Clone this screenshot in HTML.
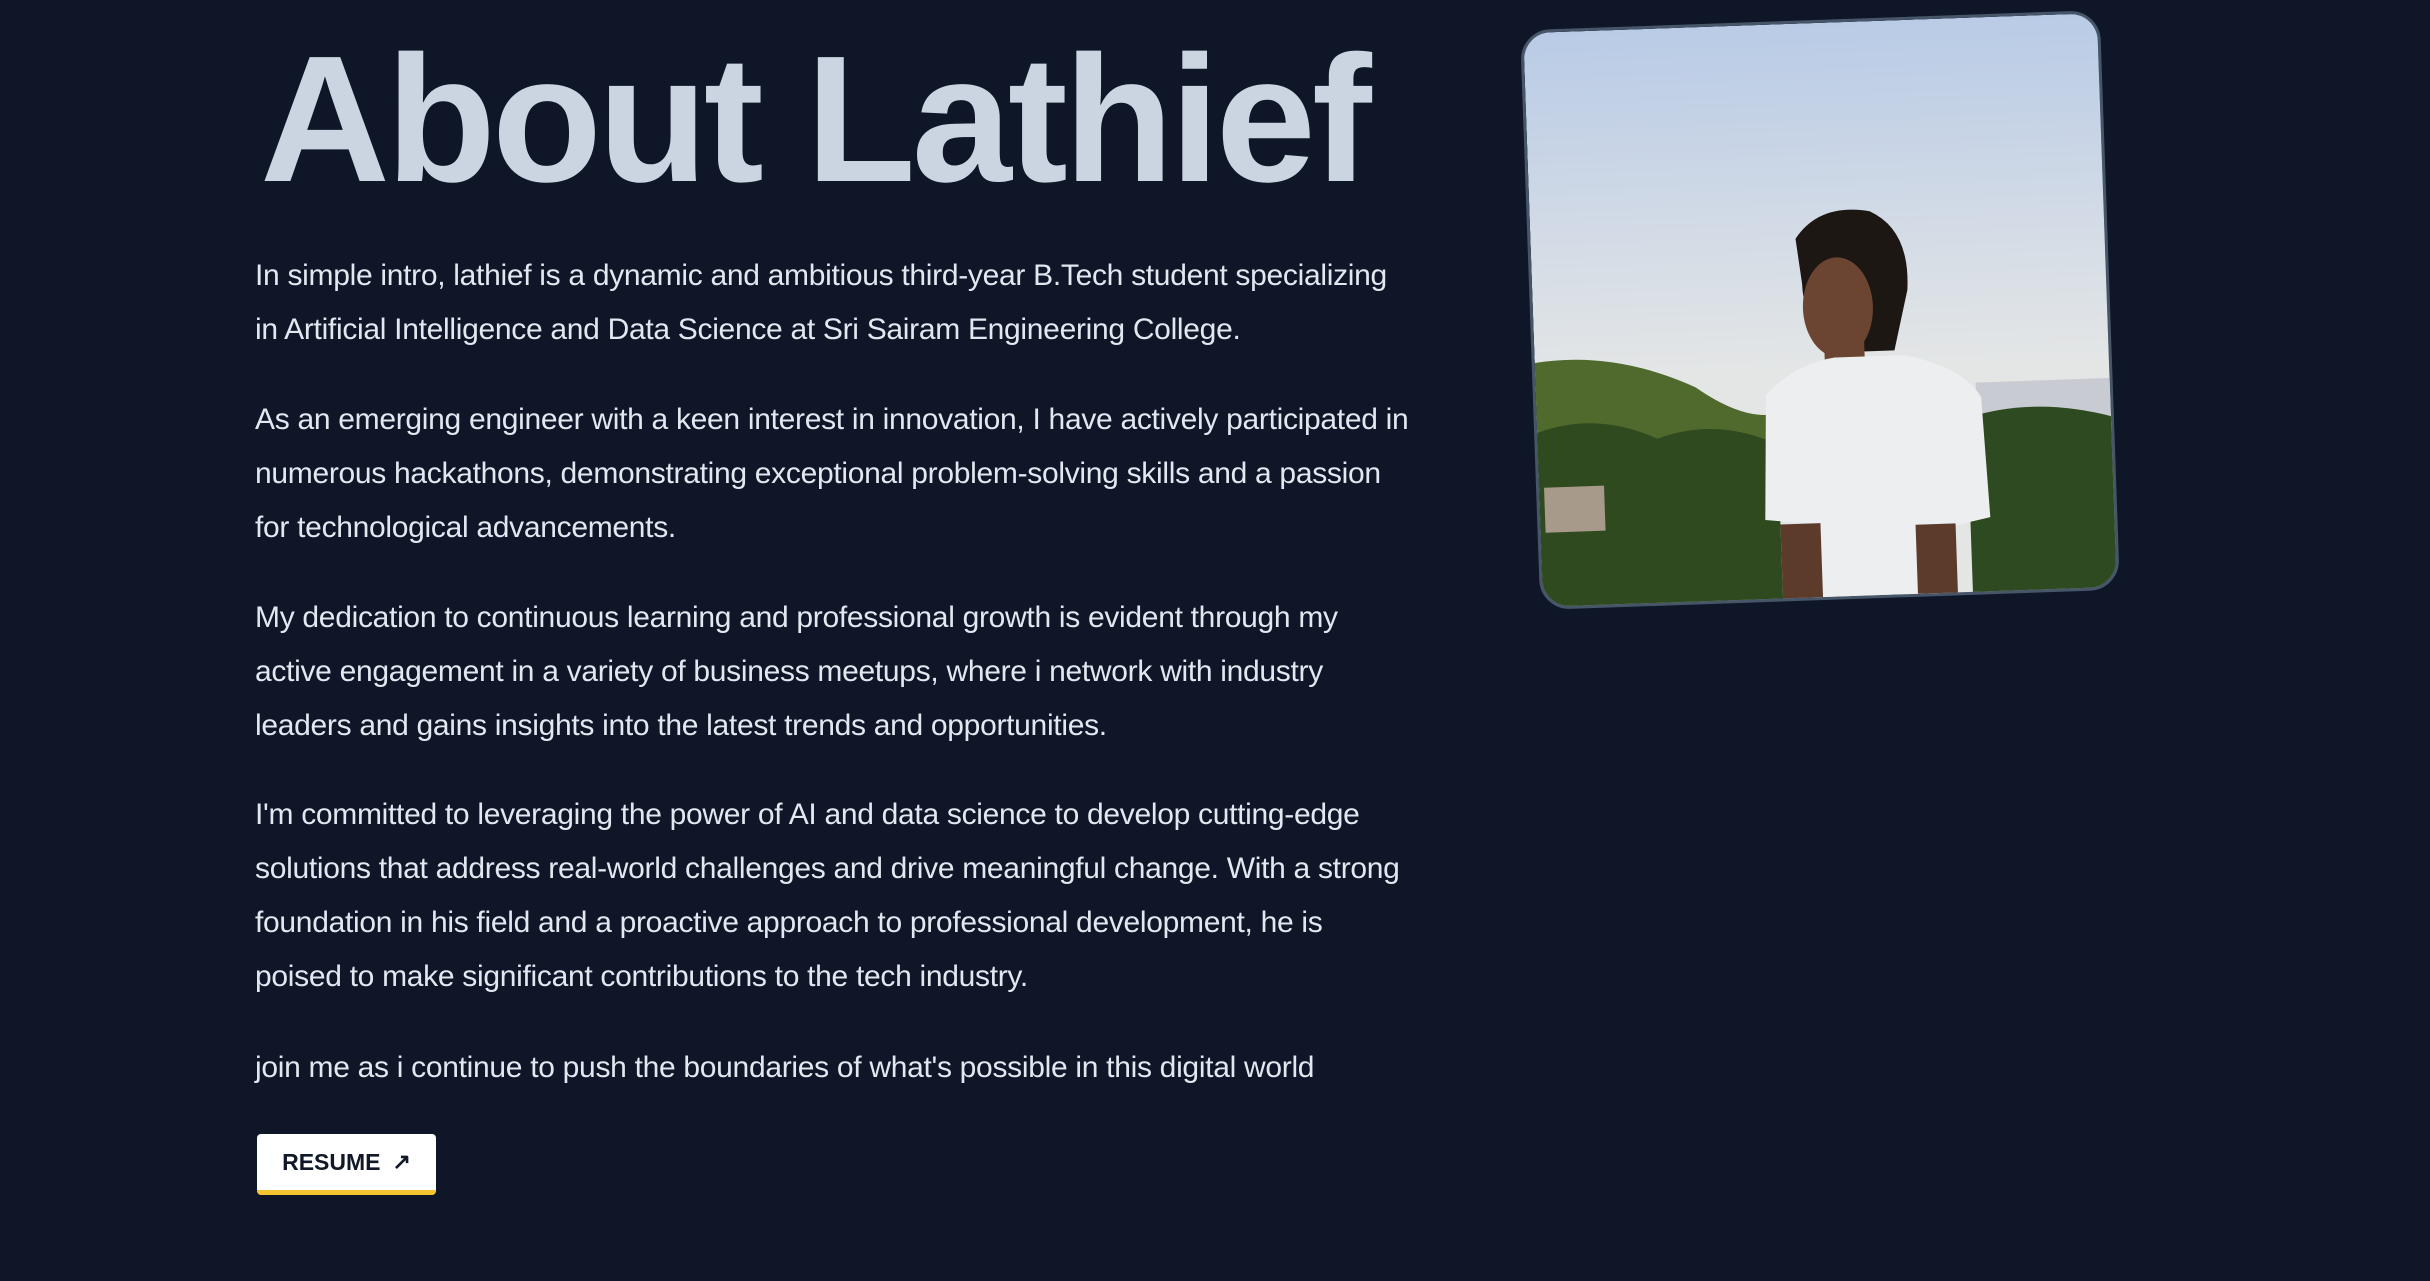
<!DOCTYPE html>
<html><head><meta charset="utf-8"><style>
html,body{margin:0;padding:0;background:#0e1628;width:2430px;height:1281px;overflow:hidden;font-family:"Liberation Sans",sans-serif;}
#title{position:absolute;left:260px;top:10px;font-size:180px;font-weight:bold;color:#cbd5e1;letter-spacing:-4px;line-height:220px;white-space:nowrap;margin:0;}
.p{position:absolute;left:255px;color:#e2e8f0;font-size:30px;line-height:54px;white-space:nowrap;letter-spacing:-0.3px;margin:0;}
#resume{position:absolute;left:257px;top:1134px;width:179px;height:61px;background:#fff;border-radius:4px;box-sizing:border-box;border-bottom:5px solid #f5c431;color:#111827;font-weight:bold;font-size:23px;display:flex;align-items:center;justify-content:center;gap:12px;}
#photo{position:absolute;left:1530px;top:20px;width:580px;height:580px;transform:rotate(-2deg);border-radius:30px;border:3px solid #475569;overflow:hidden;box-sizing:border-box;}
</style></head><body>
<h1 id="title">About Lathief</h1>
<p class="p" style="top:249px">In simple intro, lathief is a dynamic and ambitious third-year B.Tech student specializing<br>in Artificial Intelligence and Data Science at Sri Sairam Engineering College.</p>
<p class="p" style="top:393px">As an emerging engineer with a keen interest in innovation, I have actively participated in<br>numerous hackathons, demonstrating exceptional problem-solving skills and a passion<br>for technological advancements.</p>
<p class="p" style="top:591px">My dedication to continuous learning and professional growth is evident through my<br>active engagement in a variety of business meetups, where i network with industry<br>leaders and gains insights into the latest trends and opportunities.</p>
<p class="p" style="top:788px">I'm committed to leveraging the power of AI and data science to develop cutting-edge<br>solutions that address real-world challenges and drive meaningful change. With a strong<br>foundation in his field and a proactive approach to professional development, he is<br>poised to make significant contributions to the tech industry.</p>
<p class="p" style="top:1041px">join me as i continue to push the boundaries of what's possible in this digital world</p>
<div id="resume"><span>RESUME</span><span style="font-size:22px">↗</span></div>
<div id="photo">
<svg width="580" height="580" viewBox="0 0 580 580">
<defs><linearGradient id="sky" x1="0" y1="0" x2="0" y2="1"><stop offset="0" stop-color="#b9cbe6"/><stop offset="0.6" stop-color="#e4e6e6"/></linearGradient></defs>
<rect width="580" height="580" fill="url(#sky)"/>
<path d="M0 330 Q80 320 160 360 Q200 390 230 390 L230 430 L0 430Z" fill="#4f6a2c"/>
<rect x="440" y="365" width="140" height="50" fill="#c8ccd2"/>
<path d="M0 400 Q60 380 120 410 Q180 390 240 420 L240 580 L0 580Z" fill="#2f4a1e"/>
<path d="M430 400 Q500 380 580 405 L580 580 L430 580Z" fill="#2e4a20"/>
<rect x="5" y="455" width="60" height="45" fill="#a89a8a"/>
<path d="M265 215 Q290 180 340 190 Q380 210 375 270 L360 330 L290 330 Q270 290 270 260Z" fill="#1d1714"/>
<ellipse cx="305" cy="285" rx="35" ry="50" fill="#6b4532"/>
<rect x="290" y="320" width="40" height="30" fill="#6b4532"/>
<path d="M230 370 Q260 340 300 335 L370 335 Q430 350 445 380 L450 500 L400 510 L400 580 L270 580 L270 500 L225 495Z" fill="#eceef0"/>
<rect x="240" y="500" width="40" height="80" fill="#5c3b2b"/>
<rect x="375" y="505" width="40" height="75" fill="#5c3b2b"/>
</svg></div>
</body></html>
